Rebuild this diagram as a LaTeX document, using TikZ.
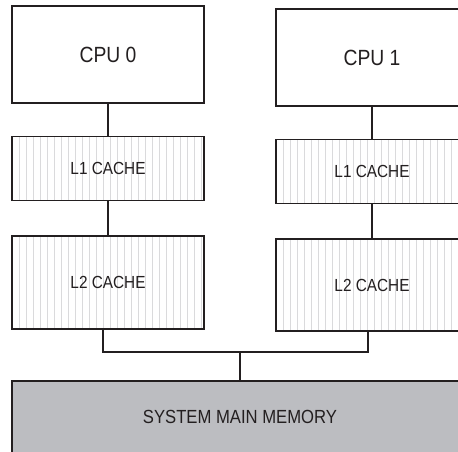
\documentclass[tikz,border=0pt]{standalone}
\usepackage{fontspec}
\usepackage{tikz}
\usetikzlibrary{positioning}
\newfontfamily\condfont{Liberation Sans}[FakeStretch=0.877]
\definecolor{inkline}{HTML}{231f20}
\definecolor{hatch}{HTML}{dadadc}
\definecolor{memfill}{HTML}{bcbdc1}

\begin{document}
\begin{tikzpicture}[
        x=1pt, y=-1pt,
        every node/.style={
            rectangle,
            draw=inkline,
            line width=1.6pt,
            text=inkline,
            align=center,
            minimum width=192pt,
            inner sep=0pt,
            font=\condfont
        },
        cpu/.style={
            minimum height=97pt,
            font=\condfont\fontsize{22}{26}\selectfont
        },
        cachebox/.style={
            font=\condfont\fontsize{17.5}{21}\selectfont,
            path picture={
                \foreach \i in {7,14,...,196}
                    \draw[hatch, line width=0.9pt]
                        ([xshift=\i pt]path picture bounding box.south west) --
                        ([xshift=\i pt]path picture bounding box.north west);
            }
        },
        link/.style={
            line width=2.7pt,
            color=inkline
        }
    ]
        \useasboundingbox (0,0) rectangle (458,452);
        \clip (0,0) rectangle (458,452);

        % left side
        \node[cpu] (cpu0) at (108,54.5) {CPU 0};
        \node[cachebox, minimum height=64pt] (l1a) [below=32pt of cpu0] {L1 CACHE};
        \node[cachebox, minimum height=93pt] (l2a) [below=34pt of l1a] {L2 CACHE};

        % right side
        \node[cpu] (cpu1) at (372,57.5) {CPU 1};
        \node[cachebox, minimum height=64pt] (l1b) [below=32pt of cpu1] {L1 CACHE};
        \node[cachebox, minimum height=92pt] (l2b) [below=34pt of l1b] {L2 CACHE};

        % memory
        \node[fill=memfill, minimum width=456pt, minimum height=72pt,
              font=\condfont\fontsize{19}{23}\selectfont] (mem) at (240,417) {SYSTEM MAIN MEMORY};

        \coordinate (bus) at (240,352);

        \draw[link] (cpu0) -- (l1a);
        \draw[link] (l1a) -- (l2a);
        \draw[link] (cpu1) -- (l1b);
        \draw[link] (l1b) -- (l2b);
        \draw[link] ([xshift=-5pt]l2a.south) |- (bus) -| ([xshift=-4pt]l2b.south);
        \draw[link] (bus) -- (mem);
    \end{tikzpicture}
\end{document}
